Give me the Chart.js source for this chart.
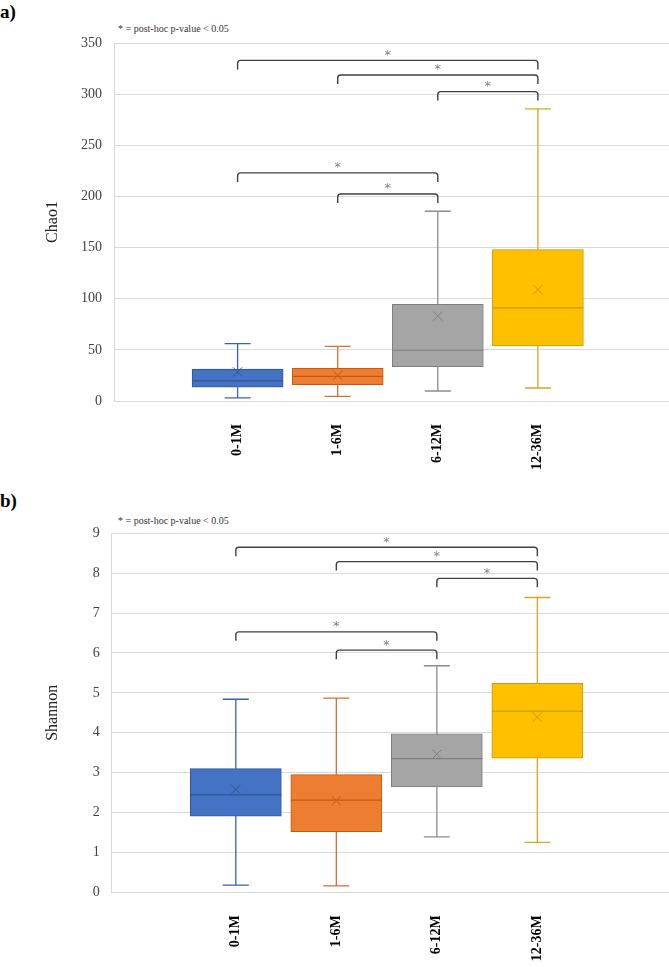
<!DOCTYPE html>
<html><head><meta charset="utf-8">
<script src="https://cdn.jsdelivr.net/npm/chart.js@4/dist/chart.umd.min.js"></script>
<style>
html,body{margin:0;padding:0;background:#fff}
body{width:669px;height:967px;position:relative;overflow:hidden;font-family:"Liberation Serif","Times New Roman",serif}
.panel{position:absolute;left:0;width:669px}
.lab{position:absolute;left:0;font-weight:bold;font-size:19px;line-height:19px;color:#000}
.note{position:absolute;left:118px;font-size:10px;line-height:10px;color:#333;white-space:nowrap}
canvas{display:block}
</style></head><body>
<div class="lab" style="top:2px">a)</div>
<div class="note" style="top:24px">* = post-hoc p-value &lt; 0.05</div>
<div class="lab" style="top:491px">b)</div>
<div class="note" style="top:516px">* = post-hoc p-value &lt; 0.05</div>
<div class="panel" style="top:0;height:480px"><canvas id="ca" width="669" height="480"></canvas></div>
<div class="panel" style="top:480px;height:487px"><canvas id="cb" width="669" height="487"></canvas></div>
<script>
// ---- data ----
const categories = ['0-1M', '1-6M', '6-12M', '12-36M'];

const chaoMin    = [3.0, 4.6, 9.8, 12.7];
const chaoQ1     = [13.4, 16.0, 33.6, 53.8];
const chaoMedian = [19.6, 24.0, 49.6, 91.0];
const chaoQ3     = [31.3, 32.0, 94.5, 148.0];
const chaoMax    = [56.0, 53.5, 185.5, 285.5];
const chaoMean   = [28.4, 25.0, 83.0, 109.0];
const chaoTicks  = [0, 50, 100, 150, 200, 250, 300, 350];

const shannonMin    = [0.18, 0.16, 1.39, 1.25];
const shannonQ1     = [1.91, 1.52, 2.64, 3.36];
const shannonMedian = [2.44, 2.31, 3.35, 4.54];
const shannonQ3     = [3.10, 2.95, 3.97, 5.24];
const shannonMax    = [4.84, 4.87, 5.68, 7.39];
const shannonMean   = [2.58, 2.30, 3.46, 4.39];
const shannonTicks  = [0, 1, 2, 3, 4, 5, 6, 7, 8, 9];

// significance brackets: pairs of category indices and the bracket level
const bracketPairs    = [[0, 3], [1, 3], [2, 3], [0, 2], [1, 2]];
const chaoBracketY    = [333, 318.7, 302.5, 223, 202.4];
const shannonBracketY = [8.65, 8.29, 7.87, 6.53, 6.07];
const bracketLabel    = '*';

// ---- styles ----
const fillColors = ['#4472C4', '#ED7D31', '#A5A5A5', '#FFC000'];
const lineColors = ['#2F5597', '#C55A11', '#7F7F7F', '#C99A06'];
const whiskColors = ['#3A62AC', '#D8702C', '#8C8C8C', '#D9A520'];
const GRID = '#D9D9D9';
const SERIF = '"Liberation Serif","Times New Roman",serif';

const boxExtras = {
  id: 'boxextras',
  beforeDatasetsDraw(chart, args, o) {
    const {ctx, scales: {x, y}} = chart;
    ctx.save();
    ctx.lineWidth = 1.3;
    o.min.forEach((_, i) => {
      const px = x.getPixelForValue(i + 1);
      ctx.strokeStyle = whiskColors[i];
      ctx.beginPath();
      ctx.moveTo(px, y.getPixelForValue(o.q3[i]));
      ctx.lineTo(px, y.getPixelForValue(o.max[i]));
      ctx.moveTo(px, y.getPixelForValue(o.q1[i]));
      ctx.lineTo(px, y.getPixelForValue(o.min[i]));
      const yMax = y.getPixelForValue(o.max[i]), yMin = y.getPixelForValue(o.min[i]);
      ctx.moveTo(px - 13, yMax); ctx.lineTo(px + 13, yMax);
      ctx.moveTo(px - 13, yMin); ctx.lineTo(px + 13, yMin);
      ctx.stroke();
    });
    ctx.restore();
  },
  afterDatasetsDraw(chart, args, o) {
    const {ctx, scales: {x, y}} = chart;
    ctx.save();
    // medians
    ctx.lineWidth = 1.2;
    o.median.forEach((m, i) => {
      const px = x.getPixelForValue(i + 1);
      const py = y.getPixelForValue(m);
      ctx.strokeStyle = lineColors[i];
      ctx.beginPath();
      ctx.moveTo(px - 45.5, py); ctx.lineTo(px + 45.5, py);
      ctx.stroke();
    });
    // brackets
    const tick = 9, r = 3;
    o.pairs.forEach((p, k) => {
      const x1 = x.getPixelForValue(p[0] + 1);
      const x2 = x.getPixelForValue(p[1] + 1);
      const yb = y.getPixelForValue(o.levels[k]);
      ctx.strokeStyle = '#404040';
      ctx.lineWidth = 1.4;
      ctx.beginPath();
      ctx.moveTo(x1, yb + tick);
      ctx.arcTo(x1, yb, x1 + r, yb, r);
      ctx.arcTo(x2, yb, x2, yb + r, r);
      ctx.lineTo(x2, yb + tick);
      ctx.stroke();
      ctx.fillStyle = '#7F7F7F';
      ctx.font = '13px "DejaVu Sans",sans-serif';
      ctx.textAlign = 'center';
      ctx.textBaseline = 'middle';
      ctx.fillText(o.label, (x1 + x2) / 2, yb - 5);
    });
    ctx.restore();
  }
};

function makeChart(id, title, minA, q1A, medA, q3A, maxA, meanA, ticksA, levels, yWidth, topPad, xHeight, titlePad) {
  return new Chart(document.getElementById(id), {
    type: 'bar',
    data: {
      datasets: [
        {
          type: 'scatter',
          order: 0,
          data: meanA.map((v, i) => ({x: i + 1, y: v})),
          pointStyle: 'crossRot',
          radius: 6.5,
          borderWidth: 1,
          borderColor: lineColors,
          backgroundColor: lineColors,
          clip: false
        },
        {
          type: 'bar',
          order: 1,
          data: q1A.map((v, i) => ({x: i + 1, y: [v, q3A[i]]})),
          backgroundColor: fillColors,
          borderColor: lineColors,
          borderWidth: 1,
          borderSkipped: false,
          barThickness: 91,
          grouped: false
        }
      ]
    },
    options: {
      responsive: false,
      animation: false,
      layout: {autoPadding: false, padding: {top: topPad, left: 0, right: 0, bottom: 0}},
      plugins: {
        legend: {display: false},
        tooltip: {enabled: false},
        boxextras: {min: minA, q1: q1A, median: medA, q3: q3A, max: maxA, pairs: bracketPairs, levels: levels, label: bracketLabel}
      },
      scales: {
        x: {
          type: 'linear',
          min: -0.235,
          max: 5.31,
          offset: false,
          grid: {display: false, drawTicks: false},
          border: {display: true, color: GRID, width: 1},
          afterBuildTicks: s => { s.ticks = categories.map((c, i) => ({value: i + 1})); },
          afterFit: s => { s.height = xHeight; s.paddingLeft = 0; s.paddingRight = 0; },
          ticks: {
            minRotation: 90, maxRotation: 90,
            autoSkip: false,
            padding: 23,
            color: '#000',
            font: {family: SERIF, size: 14, weight: 'bold'},
            callback: v => categories[v - 1] || ''
          }
        },
        y: {
          min: ticksA[0],
          max: ticksA[ticksA.length - 1],
          afterBuildTicks: s => { s.ticks = ticksA.map(v => ({value: v})); },
          afterFit: s => { s.width = yWidth; s.paddingLeft = 0; s.paddingRight = 0; },
          grid: {color: GRID, lineWidth: 1, drawTicks: false},
          border: {display: true, color: GRID, width: 1},
          ticks: {padding: 12, color: '#404040', font: {family: SERIF, size: 14}},
          title: {display: true, text: title, color: '#222', font: {family: SERIF, size: 16}, padding: {top: titlePad, bottom: 0}}
        }
      }
    },
    plugins: [boxExtras]
  });
}

makeChart('ca', 'Chao1', chaoMin, chaoQ1, chaoMedian, chaoQ3, chaoMax, chaoMean, chaoTicks, chaoBracketY, 114, 43, 79, 43.4);
makeChart('cb', 'Shannon', shannonMin, shannonQ1, shannonMedian, shannonQ3, shannonMax, shannonMean, shannonTicks, shannonBracketY, 111.7, 53.3, 74.7, 43.4);
</script>
</body></html>
